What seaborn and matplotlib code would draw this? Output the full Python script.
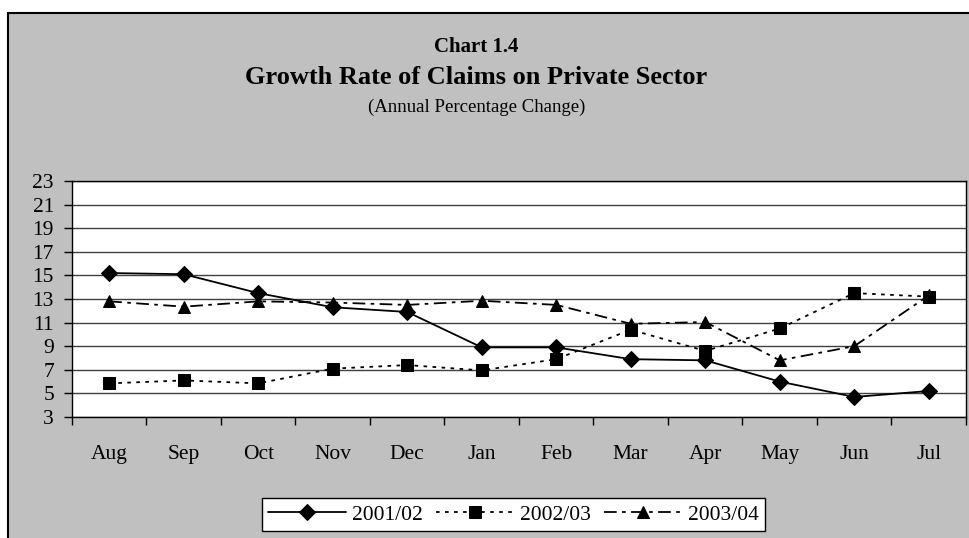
import numpy as np
import pandas as pd
import matplotlib
matplotlib.use('Agg')
import matplotlib.pyplot as plt
import matplotlib.patches as patches
import seaborn as sns

# data
months = ['Aug', 'Sep', 'Oct', 'Nov', 'Dec', 'Jan', 'Feb', 'Mar', 'Apr', 'May', 'Jun', 'Jul']
years = ['2001/02', '2002/03', '2003/04']
rate_2001_02 = [15.2, 15.1, 13.5, 12.3, 11.9, 8.9, 8.9, 7.9, 7.8, 6.0, 4.7, 5.2]
rate_2002_03 = [5.85, 6.1, 5.85, 7.1, 7.4, 6.95, 7.9, 10.4, 8.6, 10.5, 13.5, 13.2]
rate_2003_04 = [12.8, 12.35, 12.8, 12.7, 12.5, 12.85, 12.5, 10.9, 11.05, 7.8, 9.0, 13.3]
yticks = list(range(3, 24, 2))

df = pd.DataFrame({
    'month': months * 3,
    'year': np.repeat(years, len(months)),
    'rate': rate_2001_02 + rate_2002_03 + rate_2003_04,
})

sns.set_theme(style='white')
plt.rcParams['font.family'] = ['Liberation Serif', 'DejaVu Serif']
plt.rcParams['text.color'] = 'black'

fig = plt.figure(figsize=(9.7, 5.38), dpi=100, facecolor='white')

# grey chart-area frame
frame = patches.Rectangle((8/970, -0.05), 1.0, 1 - 13/538 + 0.05, transform=fig.transFigure,
                          facecolor='#C0C0C0', edgecolor='black', lw=1.5, zorder=-5)
fig.patches.append(frame)

ax = fig.add_axes([72/970, (538-417)/538, 894/970, 236/538])
ax.set_facecolor('white')

markers = {'2001/02': 'D', '2002/03': 's', '2003/04': '^'}
dashes = {'2001/02': '', '2002/03': (2, 3), '2003/04': (7, 3, 2, 3)}
sns.lineplot(data=df, x='month', y='rate', hue='year', style='year', ax=ax,
             palette=['black'] * 3, markers=markers, dashes=dashes,
             markersize=8, lw=1.3, markeredgecolor='black', sort=False)

ax.set_ylim(3, 23)
ax.set_yticks(yticks)
ax.set_xlim(-0.5, len(months) - 0.5)
ax.set_xticks(np.arange(len(months)))
ax.set_xticklabels(months)
ax.yaxis.grid(True, color='#404040', lw=1)
ax.set_axisbelow(True)
for s in ax.spines.values():
    s.set_color('black')
    s.set_linewidth(1)
ax.set_xlabel('')
ax.set_ylabel('')

# category boundary ticks below axis
ax.set_xticks(np.arange(len(months) + 1) - 0.5, minor=True)
ax.tick_params(axis='x', which='major', length=0, pad=20, labelsize=15.5, colors='black')
ax.tick_params(axis='x', which='minor', bottom=True, length=6, width=1, color='black', direction='out')
ax.tick_params(axis='y', left=True, length=6, width=1, color='black', direction='out',
               labelsize=15.5, pad=7, labelcolor='black')

# titles
fig.text(476.5/970, 1 - 47/538, 'Chart 1.4', ha='center', va='center', fontsize=15, fontweight='bold')
fig.text(476.5/970, 1 - 78/538, 'Growth Rate of Claims on Private Sector', ha='center', va='center',
         fontsize=19, fontweight='bold')
fig.text(476.5/970, 1 - 107/538, '(Annual Percentage Change)', ha='center', va='center', fontsize=13.5)

# legend
handles, labels = ax.get_legend_handles_labels()
ax.legend_.remove()
leg = fig.legend(handles, labels, loc='center', bbox_to_anchor=(513.5/970, 1 - 514.5/538), ncol=3,
                 frameon=True, fancybox=False, edgecolor='black', facecolor='white', framealpha=1,
                 fontsize=15.5, handlelength=3.6, columnspacing=0.6, handletextpad=0.3,
                 borderpad=0.3, borderaxespad=0)
leg.get_frame().set_linewidth(1)

fig.savefig('out.png', dpi=100, facecolor='white')
